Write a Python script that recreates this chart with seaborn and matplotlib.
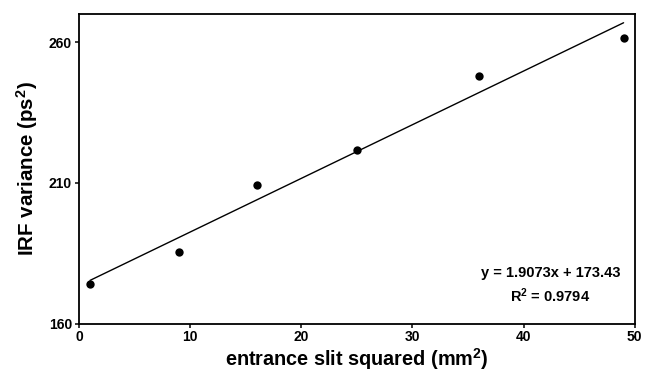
import matplotlib
matplotlib.use("Agg")
import matplotlib.pyplot as plt
import seaborn as sns
import numpy as np
import pandas as pd

# data
slit_sq = [1, 9, 16, 25, 36, 49]
irf_var = [173.9, 185.3, 209.2, 221.7, 247.8, 261.5]
slope = 1.9073
intercept = 173.43
r_squared = 0.9794
x_ticks = [0, 10, 20, 30, 40, 50]
y_ticks = [160, 210, 260]

sns.set_theme(style="ticks")
plt.rcParams['font.family'] = ['Liberation Sans', 'DejaVu Sans']
plt.rcParams['font.weight'] = 'bold'
plt.rcParams['text.color'] = 'black'
plt.rcParams['axes.labelcolor'] = 'black'
plt.rcParams['mathtext.fontset'] = 'custom'
plt.rcParams['mathtext.rm'] = 'Liberation Sans:bold'
plt.rcParams['mathtext.it'] = 'Liberation Sans:bold'
plt.rcParams['mathtext.bf'] = 'Liberation Sans:bold'

df = pd.DataFrame({"x": slit_sq, "y": irf_var})
fit_x = [min(slit_sq), max(slit_sq)]
fit_df = pd.DataFrame({"x": fit_x, "y": [slope * v + intercept for v in fit_x]})

fig = plt.figure(figsize=(6.46, 3.73), dpi=100)
ax = fig.add_axes([79 / 646, 1 - 323.5 / 373, (634.7 - 79) / 646, (323.5 - 14) / 373])

sns.lineplot(data=fit_df, x="x", y="y", ax=ax, color="black", linewidth=1.0)
sns.scatterplot(data=df, x="x", y="y", ax=ax, color="black", s=36, edgecolor="black", linewidth=0, zorder=3)

ax.set_xlim(0, 50)
ax.set_ylim(160, 270)
ax.set_xticks(x_ticks)
ax.set_yticks(y_ticks)
ax.tick_params(axis="both", direction="out", length=3, width=1.1, labelsize=10, pad=2,
               colors="black", labelcolor="black")
for lab in ax.get_xticklabels() + ax.get_yticklabels():
    lab.set_fontweight("bold")
for sp in ax.spines.values():
    sp.set_linewidth(1.3)
    sp.set_color("black")

ax.set_xlabel("entrance slit squared (mm$^2$)", fontsize=14.3, fontweight="bold", labelpad=1, color="black")
ax.set_ylabel("IRF variance (ps$^2$)", fontsize=14.8, fontweight="bold", labelpad=6, color="black")

ax.text(0.975, 0.164, f"y = {slope}x + {intercept}", transform=ax.transAxes,
        ha="right", va="center", fontsize=10.5, fontweight="bold", color="black")
ax.text(0.848, 0.09, f"R$^2$ = {r_squared}", transform=ax.transAxes,
        ha="center", va="center", fontsize=10.5, fontweight="bold", color="black")

fig.savefig("out.png", dpi=100)
